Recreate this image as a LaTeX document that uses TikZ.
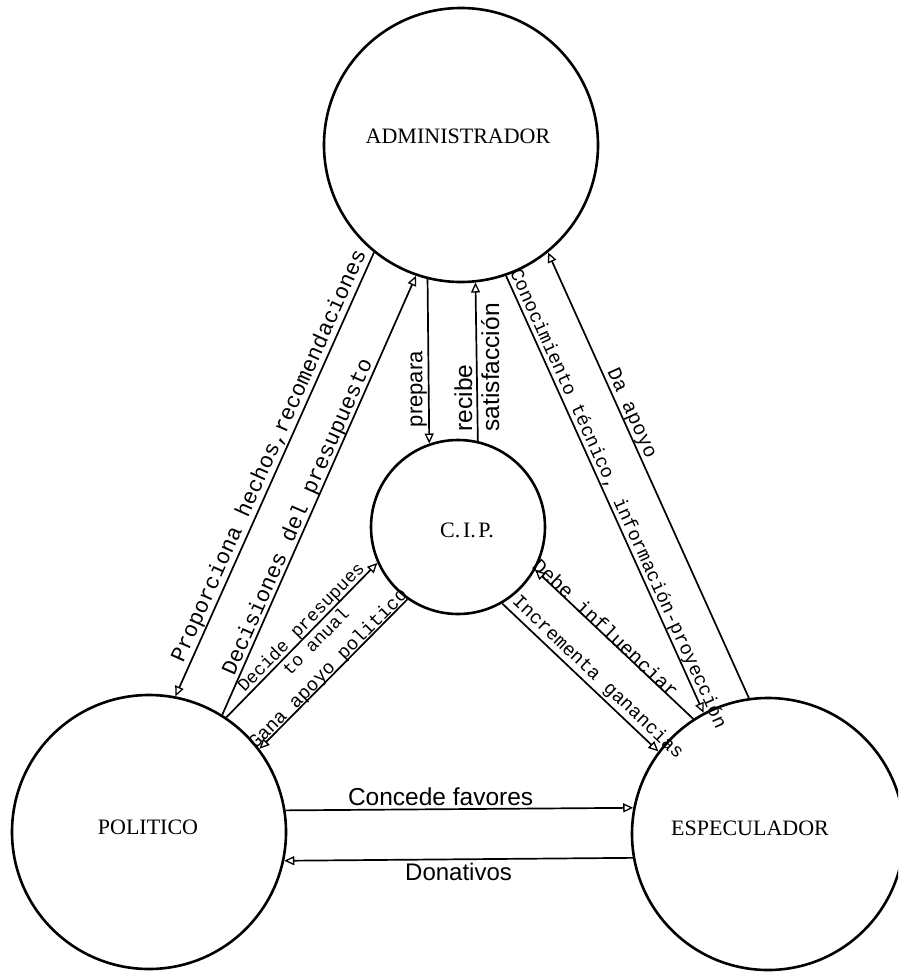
\documentclass[tikz,border=0pt]{standalone}
\usepackage{fontspec}
\setmainfont{Liberation Serif}
\newfontfamily\typefont{Liberation Mono}
\newfontfamily\plainsans{Liberation Sans}
\usetikzlibrary{arrows.meta}

\begin{document}
\begin{tikzpicture}[x=1pt,y=-1pt,
  actor/.style={circle, draw, line width=2.6pt, inner sep=0pt, minimum size=#1},
  actorname/.style={font=\fontsize{22}{26}\selectfont, inner sep=0pt},
  flow/.style={line width=1.7pt,
    -{Triangle[open, length=10pt, width=9pt, line width=1.3pt]}},
  lbl/.style={inner sep=1pt}
]
\useasboundingbox (0,0) rectangle (898,972);
\clip (0,0) rectangle (898,972);

% the four actors
\node[actor=274pt] (adm) at (461,145) {};
\node[actor=174pt] (cip) at (458,527) {};
\node[actor=274pt] (pol) at (149,832) {};
\node[actor=272pt] (esp) at (768,834) {};

\node[actorname] (admname) at (458,136) {ADMINISTRADOR};
\node[actorname] (cipname) at (467,530) {C.\hspace{0.12em}I.\hspace{0.12em}P.};
\node[actorname] (polname) at (148,827) {POLITICO};
\node[actorname] (espname) at (750,828) {ESPECULADOR};

% administrador <-> politico
\draw[flow] (adm.231.6) -- node[lbl, pos=0.47, sloped, above=0pt,
  font=\typefont\fontsize{22}{24}\selectfont]
  {Proporciona hechos,recomendaciones} (pol.79.6);
\draw[flow] (pol.58.7) -- node[lbl, pos=0.44, sloped, above=-2pt,
  font=\typefont\fontsize{22}{24}\selectfont]
  {Decisiones del presupuesto} (adm.251.4);

% administrador <-> C.I.P.
\draw[flow] (adm.256.5) -- node[lbl, pos=0.67, rotate=90, anchor=south,
  font=\plainsans\fontsize{22}{24}\selectfont]
  {prepara} (cip.109.5);
\draw[flow] (cip.77.4) -- node[lbl, pos=0.465, rotate=90, align=left,
  font=\plainsans\fontsize{24.5}{27}\selectfont]
  {recibe\\satisfacción} (adm.276.7);

% politico <-> C.I.P.
\draw[flow] (pol.56) -- node[lbl, pos=0.54, sloped, align=center,
  font=\typefont\fontsize{18}{21}\selectfont]
  {Decide presupues\\to anual} (cip.204);
\draw[flow] (cip.235.7) -- node[lbl, pos=0.5, sloped, above=-4pt,
  font=\typefont\fontsize{19}{21}\selectfont]
  {Gana apoyo politico} (pol.37.3);

% administrador <-> especulador
\draw[flow] (adm.289.9) -- node[lbl, pos=0.52, sloped, above=-1pt,
  font=\typefont\fontsize{19}{21}\selectfont]
  {Conocimiento técnico, información-proyección} (esp.118.2);
\draw[flow] (esp.98.8) -- node[lbl, pos=0.63, sloped, above=-1pt,
  font=\typefont\fontsize{20}{22}\selectfont]
  {Da apoyo} (adm.309.6);

% especulador <-> C.I.P.
\draw[flow] (esp.123.7) -- node[lbl, pos=0.58, sloped, above=-3pt,
  font=\typefont\fontsize{20}{22}\selectfont]
  {Debe influenciar} (cip.331.3);
\draw[flow] (cip.300.1) -- node[lbl, pos=0.56, sloped, above=1pt,
  font=\typefont\fontsize{19}{21}\selectfont]
  {Incrementa ganancias} (esp.143.2);

% politico <-> especulador
\draw[flow] (pol.9.7) -- node[lbl, pos=0.446, above=2pt,
  font=\plainsans\fontsize{24.5}{26}\selectfont]
  {Concede favores} (esp.169.4);
\draw[flow] (esp.190.6) -- node[lbl, pos=0.5, below=2pt,
  font=\plainsans\fontsize{24}{26}\selectfont]
  {Donativos} (pol.348.6);
\end{tikzpicture}
\end{document}
